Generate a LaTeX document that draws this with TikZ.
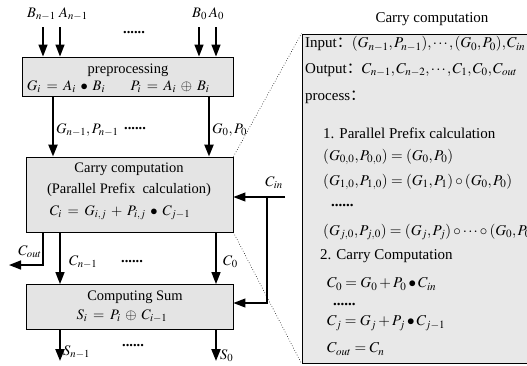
\documentclass[tikz,border=0pt]{standalone}
\usepackage{mathptmx}
\usepackage[no-math]{fontspec}
\setmainfont{Liberation Serif}
\newfontfamily\cjk{Noto Sans CJK SC}
\usetikzlibrary{arrows.meta}
\definecolor{boxgray}{HTML}{E4E4E4}
\definecolor{panelgray}{HTML}{E8E8E8}
\newcommand\leftfnt{\fontsize{14.5}{16}\selectfont\thickmuskip=7mu\relax\medmuskip=6mu\relax}
\newcommand\panelfnt{\fontsize{15}{17}\selectfont\thinmuskip=1.5mu\relax}
\begin{document}
\begin{tikzpicture}[x=1pt,y=-1pt,
  font=\leftfnt,
  blk/.style={draw, line width=0.9pt, fill=boxgray, inner sep=0pt},
  txt/.style={inner sep=0pt, anchor=center},
  ltxt/.style={inner sep=0pt, anchor=west},
  dotsty/.style={inner sep=0pt, font=\leftfnt\bfseries},
  tip/.style={-{Triangle[length=12pt,width=9pt]}},
  inarr/.style={tip, line width=1.4pt},
  bigarr/.style={tip, line width=2.2pt},
  carr/.style={tip, line width=1.5pt},
  thinarr/.style={tip, line width=1.1pt},
  ptxt/.style={inner sep=0pt, anchor=west, font=\panelfnt}]
\useasboundingbox (0,0) rectangle (527,365);
\clip (0,0) rectangle (527,365);

% boxes
\node[blk, minimum width=211pt, minimum height=39pt] (pre) at (127.5,76.5) {};
\node[blk, minimum width=207pt, minimum height=75pt] (cc) at (129.5,194.5) {};
\node[blk, minimum width=207pt, minimum height=45pt] (sum) at (129.5,307) {};
\node[draw, line width=1pt, fill=panelgray, minimum width=260pt, minimum height=329pt, inner sep=0pt] (panel) at (432,198.5) {};

% preprocessing texts
\node[txt] (pret) at (128,70) {preprocessing};
\node[txt] (preg) at (66,87) {$G_i = A_i \bullet B_i$};
\node[txt] (prep) at (170,87) {$P_i = A_i \oplus B_i$};

% inputs
\node[ltxt] (lbn) at (27,14) {$B_{n-1}$};
\node[ltxt] (lan) at (59,14) {$A_{n-1}$};
\node[ltxt] (lb0) at (192,14) {$B_0$};
\node[ltxt] (la0) at (209,14) {$A_0$};
\node[dotsty] (dots1) at (134,33) {......};
\coordinate (bn) at (43,27);
\coordinate (an) at (60,27);
\coordinate (b0) at (199,27);
\coordinate (a0) at (216,27);
\draw[inarr] (bn) -- (bn |- pre.north);
\draw[inarr] (an) -- (an |- pre.north);
\draw[inarr] (b0) -- (b0 |- pre.north);
\draw[inarr] (a0) -- (a0 |- pre.north);

% G,P arrows
\coordinate (gpn) at (53,0);
\coordinate (gp0) at (209,0);
\draw[bigarr] (pre.south -| gpn) -- (cc.north -| gpn);
\draw[bigarr] (pre.south -| gp0) -- (cc.north -| gp0);
\node[ltxt] (lgpn) at (56,130) {$G_{n-1},P_{n-1}$};
\node[dotsty] (dots2) at (135,129) {......};
\node[ltxt] (lgp0) at (212,130) {$G_0,P_0$};

% carry computation texts
\node[txt] (cct1) at (129,169) {Carry computation};
\node[txt] (cct2) at (129,190) {(Parallel Prefix\ \ calculation)};
\node[txt] (cct3) at (120,213) {$C_i = G_{i,j} + P_{i,j} \bullet C_{j-1}$};

% carries out
\coordinate (co) at (43,265);
\coordinate (cout) at (9,265);
\draw[carr] (cc.south -| co) -- (co) -- (cout);
\node[txt] (lcout) at (30,252) {$C_{out}$};
\coordinate (cn) at (60,0);
\coordinate (c0) at (216,0);
\draw[carr] (cc.south -| cn) -- (sum.north -| cn);
\draw[carr] (cc.south -| c0) -- (sum.north -| c0);
\node[ltxt] (lcn) at (69,262) {$C_{n-1}$};
\node[dotsty] (dots3) at (132,262) {......};
\node[ltxt] (lc0) at (223,262) {$C_0$};

% C_in
\node[txt] (lcin) at (274,183) {$C_{in}$};
\coordinate (cin) at (285,197);
\coordinate (cinj) at (267,197);
\coordinate (cinb) at (267,303);
\draw[thinarr] (cin) -- (cin -| cc.east);
\draw[thinarr] (cinj) -- (cinb) -- (cinb -| sum.east);

% sum texts
\node[txt] (st1) at (135,297) {Computing Sum};
\node[txt] (st2) at (122,316) {$S_i = P_i \oplus C_{i-1}$};

% outputs
\coordinate (sn) at (60,0);
\coordinate (s0) at (216,0);
\coordinate (send) at (0,361);
\draw[bigarr] (sum.south -| sn) -- (send -| sn);
\draw[bigarr] (sum.south -| s0) -- (send -| s0);
\node[ltxt] (lsn) at (63,352) {$S_{n-1}$};
\node[dotsty] (dots4) at (133,346) {......};
\node[ltxt] (ls0) at (220,356) {$S_0$};

% zoom lines
\draw[dotted, line width=0.6pt] (cc.north east) -- (panel.north west);
\draw[dotted, line width=0.6pt] (cc.south east) -- (panel.south west);

% panel
\node[txt, font=\panelfnt] (ptitle) at (432,19) {Carry computation};
\node[ptxt] (pin) at (305,44) {Input{\cjk ：}$(G_{n-1},P_{n-1}),\cdots,(G_0,P_0),C_{in}$};
\node[ptxt] (pout) at (305,70) {Output{\cjk ：}$C_{n-1},C_{n-2},\cdots,C_1,C_0,C_{out}$};
\node[ptxt] (pproc) at (305,97) {process{\cjk ：}};
\node[ptxt] (p1) at (323,133) {1. Parallel Prefix calculation};
\node[ptxt] (p1a) at (323,157) {$(G_{0,0},P_{0,0}) = (G_0,P_0)$};
\node[ptxt] (p1b) at (323,182) {$(G_{1,0},P_{1,0}) = (G_1,P_1)\circ(G_0,P_0)$};
\node[ptxt, font=\panelfnt\bfseries] (p1c) at (331,205) {......};
\node[ptxt] (p1d) at (323,232) {$(G_{j,0},P_{j,0}) = (G_j,P_j)\circ\cdots\circ(G_0,P_0)$};
\node[ptxt] (p2) at (320,256) {2. Carry Computation};
\node[ptxt] (p2a) at (327,284) {$C_0 = G_0 + P_0 \bullet C_{in}$};
\node[ptxt, font=\panelfnt\bfseries] (p2b) at (333,304) {......};
\node[ptxt] (p2c) at (327,323) {$C_j = G_j + P_j \bullet C_{j-1}$};
\node[ptxt] (p2d) at (327,349) {$C_{out} = C_n$};
\end{tikzpicture}
\end{document}
